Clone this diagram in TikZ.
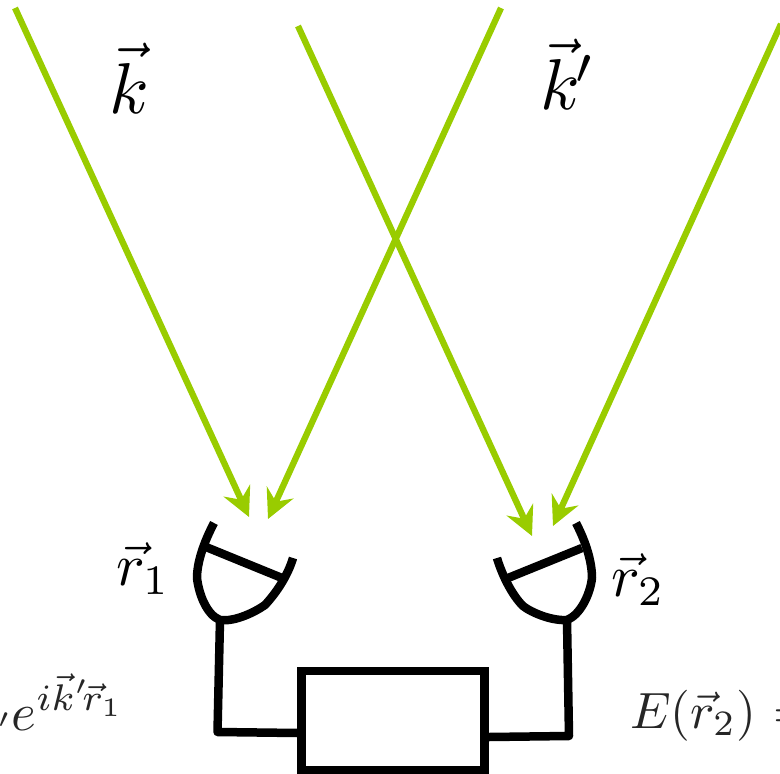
\documentclass[tikz,border=0pt]{standalone}
\usetikzlibrary{arrows.meta}
\definecolor{beam}{RGB}{153,204,0}
\tikzset{
  beamline/.style={draw=beam,line width=6.3pt,-{Stealth[inset=10pt,length=29pt,width=29pt]}},
  wire/.style={draw=black,line width=8.5pt,line join=round},
  lab/.style={inner sep=0pt,outer sep=0pt,text=black},
  faint/.style={lab,text=black!85}
}
\begin{document}
\begin{tikzpicture}[x=1pt,y=-1pt]
\useasboundingbox (0,0) rectangle (780,774);
\clip (0,0) rectangle (780,774);
\coordinate (a1) at (15,8);   \coordinate (a2) at (249,517);
\coordinate (b1) at (501,8);  \coordinate (b2) at (268,519);
\coordinate (c1) at (298,26); \coordinate (c2) at (532,536);
\coordinate (d1) at (781,24); \coordinate (d2) at (553,526);
\draw[beamline] (a1) -- (a2);
\draw[beamline] (b1) -- (b2);
\draw[beamline] (c1) -- (c2);
\draw[beamline] (d1) -- (d2);
% detectors
\draw[wire] (214,523) .. controls (204,542) and (197,562) .. (197,578) .. controls (199,595) and (207,615) .. (220,620) .. controls (235,622) and (255,612) .. (265,605) .. controls (277,592) and (288,575) .. (293,558);
\draw[wire] (206,547) -- (282,578);
\draw[wire] (576,523) .. controls (586,542) and (592,562) .. (592,578) .. controls (590,595) and (580,615) .. (567,620) .. controls (552,621) and (532,613) .. (523,606) .. controls (512,595) and (502,575) .. (497,558);
\draw[wire] (582,548) -- (508,578);
% box and wires
\node[draw=black,line width=8.5pt,minimum width=183pt,minimum height=99pt,inner sep=0pt] (box) at (393.2,720.5) {};
\coordinate (w1) at (220,620);
\coordinate (w2) at (217.5,732);
\coordinate (w3) at (567,620);
\coordinate (w4) at (569,736);
\draw[wire] (w1) -- (w2) -- (box.west |- 0,733);
\draw[wire] (w3) -- (w4) -- (box.east |- 0,737);
% labels
\node[lab,scale=7.2] (kl) at (129,78) {$\vec{k}$};
\node[lab,scale=7.2] (kp) at (568,74) {$\vec{k}^{\mskip-1.5mu\prime}$};
\node[lab,scale=6] (r1) at (143,569) {$\vec{r}_1$};
\node[lab,scale=6] (r2) at (638,580) {$\vec{r}_2$};
\node[faint,scale=5.3,anchor=base east] (f1) at (125,730) {$_{k'}\mskip-1mu e^{i\vec{k}'\!\vec{r}_1}$};
\node[faint,scale=5.1,anchor=base west] (f2) at (630,728) {$E(\vec{r}_2)\mskip1mu=$};
\end{tikzpicture}
\end{document}
